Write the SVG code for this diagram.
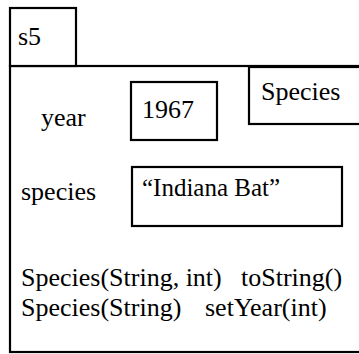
<svg xmlns="http://www.w3.org/2000/svg" width="359" height="354" viewBox="0 0 359 354">
<style>
.b{fill:#fff;stroke:#000;stroke-width:2.2}
</style>
<rect width="359" height="354" fill="#fff"/>
<g font-family="Liberation Serif, Times New Roman, serif" font-size="26" fill="#000">
<g id="object">
<rect class="b" x="10" y="66" width="360" height="286"/>
<rect class="b" x="10" y="8" width="66" height="58"/>
<text x="18" y="45">s5</text>
</g>
<g id="classLabel">
<rect class="b" x="249" y="67" width="120" height="57"/>
<text x="261" y="100">Species</text>
</g>
<g id="year">
<text x="41" y="126">year</text>
<rect class="b" x="131" y="82" width="86" height="58"/>
<text x="142" y="118">1967</text>
</g>
<g id="species">
<text x="21" y="200">species</text>
<rect class="b" x="132" y="167" width="210" height="59"/>
<text x="142" y="196" font-size="25">“Indiana Bat”</text>
</g>
<g id="methods">
<text x="21" y="286">Species(String, int)</text>
<text x="241" y="286">toString()</text>
<text x="21" y="316">Species(String)</text>
<text x="205" y="316">setYear(int)</text>
</g>
</g>
<g id="connectors"/>
</svg>
